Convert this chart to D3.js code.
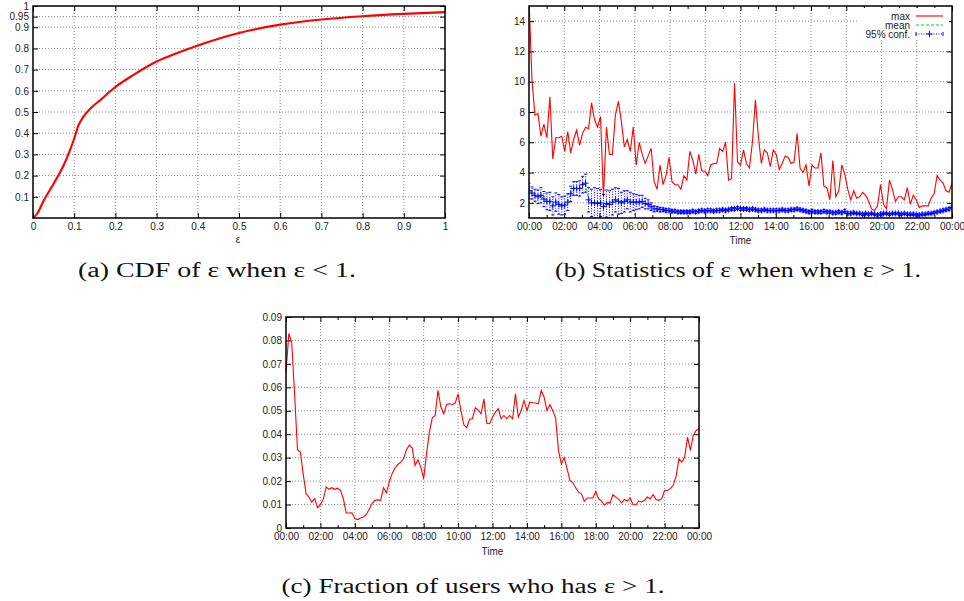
<!DOCTYPE html>
<html>
<head>
<meta charset="utf-8">
<script src="https://cdn.jsdelivr.net/npm/d3@7"></script>
<style>
  body { margin: 0; background: #fff; }
  svg { display: block; }
</style>
</head>
<body>
<svg id="svg" width="964" height="601"></svg>
<script>
/*********************
 * Data
 *********************/
// (a) CDF of epsilon when epsilon < 1
const cdfEps  = [0, 0.01, 0.027, 0.051, 0.075, 0.087, 0.099, 0.111, 0.123, 0.14, 0.164, 0.196,
                 0.244, 0.3, 0.35, 0.4, 0.45, 0.5, 0.6, 0.7, 0.8, 0.9, 1.0];
const cdfVals = [0, 0.02, 0.086, 0.165, 0.251, 0.306, 0.369, 0.44, 0.479, 0.518, 0.557, 0.612,
                 0.675, 0.738, 0.778, 0.814, 0.846, 0.873, 0.912, 0.936, 0.952, 0.963, 0.971];
const cdfXTicks = [0, 0.1, 0.2, 0.3, 0.4, 0.5, 0.6, 0.7, 0.8, 0.9, 1];
const cdfYTicks = [0.1, 0.2, 0.3, 0.4, 0.5, 0.6, 0.7, 0.8, 0.9, 0.95, 1];

// (b) statistics of epsilon when epsilon > 1, one sample every ~10 minutes
const maxEps = [15.5, 10.1, 7.8, 7.9, 6.4, 7.2, 6.3, 9.0, 4.9, 6.3,
  6.3, 6.4, 5.4, 6.7, 5.3, 6.2, 6.8, 5.8, 6.6, 7.0,
  6.9, 8.6, 7.5, 7.0, 7.7, 2.4, 7.0, 5.2, 5.2, 7.8,
  8.7, 7.4, 5.7, 6.2, 5.4, 7.0, 4.5, 6.0, 5.2, 4.6,
  5.1, 5.6, 3.4, 2.9, 4.5, 3.2, 3.8, 5.0, 3.4, 3.2,
  3.2, 2.9, 3.8, 3.5, 5.4, 4.8, 3.9, 5.2, 4.1, 4.1,
  3.8, 4.5, 4.6, 4.6, 5.6, 5.4, 6.0, 3.5, 3.6, 9.9,
  4.7, 4.5, 5.5, 4.6, 4.3, 6.0, 8.8, 6.4, 4.6, 5.5,
  5.3, 4.4, 5.5, 5.2, 4.2, 4.6, 5.1, 5.0, 4.6, 4.7,
  6.6, 4.3, 4.0, 4.5, 3.1, 4.5, 4.3, 4.3, 5.3, 3.1,
  3.0, 2.2, 4.8, 2.4, 2.8, 4.5, 3.9, 2.9, 2.2, 2.8,
  2.3, 2.4, 2.7, 2.5, 2.1, 1.6, 1.5, 1.8, 3.2, 1.9,
  1.6, 3.5, 2.9, 2.1, 2.4, 2.4, 2.2, 3.0, 1.9, 2.5,
  2.2, 1.7, 1.8, 1.8, 1.8, 2.3, 2.6, 3.8, 3.5, 3.3,
  2.8, 2.7, 3.3];
const meanEps = [2.8, 2.65, 2.5, 2.4, 2.5, 2.25, 2.1, 2.1, 1.8, 2.05,
  1.9, 1.8, 1.85, 2.05, 2.6, 2.95, 2.95, 2.95, 3.2, 3.3,
  2.2, 2.0, 2.0, 1.95, 2.0, 1.75, 1.95, 1.9, 2.05, 2.2,
  2.1, 2.0, 2.1, 2.2, 2.05, 2.05, 2.05, 2.05, 2.1, 1.95,
  1.9, 1.75, 1.6, 1.6, 1.55, 1.55, 1.5, 1.5, 1.45, 1.45,
  1.4, 1.4, 1.4, 1.4, 1.4, 1.45, 1.4, 1.45, 1.5, 1.45,
  1.5, 1.5, 1.45, 1.5, 1.5, 1.55, 1.5, 1.55, 1.6, 1.6,
  1.65, 1.6, 1.6, 1.6, 1.55, 1.6, 1.55, 1.5, 1.5, 1.55,
  1.5, 1.5, 1.5, 1.5, 1.5, 1.55, 1.5, 1.5, 1.55, 1.55,
  1.6, 1.55, 1.5, 1.45, 1.4, 1.45, 1.4, 1.4, 1.4, 1.45,
  1.4, 1.4, 1.35, 1.35, 1.4, 1.35, 1.45, 1.3, 1.3, 1.35,
  1.3, 1.3, 1.25, 1.3, 1.25, 1.3, 1.25, 1.2, 1.25, 1.3,
  1.3, 1.25, 1.3, 1.3, 1.3, 1.25, 1.3, 1.25, 1.25, 1.25,
  1.2, 1.2, 1.25, 1.25, 1.3, 1.3, 1.35, 1.4, 1.45, 1.5,
  1.55, 1.6, 1.7];
// half width of the 95% confidence interval around the mean
const confHalf = [0.5, 0.4, 0.4, 0.45, 0.5, 0.5, 0.55, 0.6, 0.6, 0.6,
  0.65, 0.6, 0.6, 0.55, 0.5, 0.45, 0.45, 0.5, 0.55, 0.6,
  0.8, 0.9, 1.0, 1.0, 0.9, 0.8, 0.9, 0.9, 0.85, 0.8,
  0.85, 0.7, 0.7, 0.6, 0.65, 0.55, 0.5, 0.45, 0.4, 0.35,
  0.3, 0.25, 0.2, 0.15, 0.15, 0.12, 0.12, 0.1, 0.1, 0.1,
  0.1, 0.1, 0.1, 0.1, 0.1, 0.1, 0.1, 0.1, 0.1, 0.1,
  0.1, 0.1, 0.1, 0.1, 0.1, 0.1, 0.1, 0.1, 0.1, 0.1,
  0.1, 0.1, 0.1, 0.1, 0.1, 0.1, 0.1, 0.1, 0.1, 0.1,
  0.1, 0.1, 0.1, 0.1, 0.1, 0.1, 0.1, 0.1, 0.1, 0.1,
  0.1, 0.1, 0.1, 0.1, 0.1, 0.1, 0.1, 0.1, 0.1, 0.1,
  0.1, 0.1, 0.1, 0.1, 0.1, 0.1, 0.1, 0.1, 0.1, 0.1,
  0.08, 0.08, 0.08, 0.08, 0.08, 0.08, 0.08, 0.08, 0.08, 0.08,
  0.08, 0.08, 0.08, 0.08, 0.08, 0.08, 0.08, 0.08, 0.08, 0.08,
  0.08, 0.08, 0.08, 0.08, 0.08, 0.08, 0.08, 0.08, 0.08, 0.1,
  0.1, 0.1, 0.1];
const statYTicks = [2, 4, 6, 8, 10, 12, 14];
const legendNames = ['max', 'mean', '95% conf.'];

// (c) fraction of users who has epsilon > 1
const fracUsers = [0.0665, 0.083, 0.079, 0.057, 0.0334, 0.0324, 0.023, 0.0146, 0.0132, 0.011,
  0.0125, 0.0087, 0.01, 0.0122, 0.0175, 0.0165, 0.0172, 0.0165, 0.017, 0.016,
  0.0125, 0.0064, 0.0064, 0.0065, 0.004, 0.0036, 0.0043, 0.0047, 0.0058, 0.008,
  0.0104, 0.0118, 0.012, 0.0118, 0.0172, 0.015, 0.0196, 0.0232, 0.0256, 0.0271,
  0.0281, 0.0295, 0.0334, 0.0354, 0.0342, 0.0267, 0.0291, 0.026, 0.021, 0.0317,
  0.0409, 0.047, 0.048, 0.0587, 0.0516, 0.0487, 0.0527, 0.053, 0.0527, 0.0533,
  0.0572, 0.0501, 0.044, 0.0428, 0.0464, 0.0466, 0.0513, 0.0504, 0.0487, 0.0551,
  0.0447, 0.0445, 0.0473, 0.0494, 0.0509, 0.0466, 0.048, 0.0466, 0.048, 0.0466,
  0.0572, 0.0473, 0.0501, 0.0544, 0.0501, 0.0537, 0.0534, 0.0533, 0.053, 0.0587,
  0.0558, 0.0501, 0.0527, 0.0501, 0.047, 0.0331, 0.0274, 0.03, 0.0253, 0.0203,
  0.0193, 0.0172, 0.0153, 0.0146, 0.0114, 0.0128, 0.0128, 0.0128, 0.0156, 0.0125,
  0.0115, 0.0097, 0.0108, 0.0107, 0.0142, 0.0132, 0.0122, 0.0107, 0.0122, 0.0115,
  0.0128, 0.0099, 0.0099, 0.0115, 0.0111, 0.0118, 0.0132, 0.0125, 0.0143, 0.0121,
  0.0118, 0.0125, 0.016, 0.016, 0.0168, 0.0182, 0.022, 0.0295, 0.0281, 0.0303,
  0.0388, 0.0331, 0.0395, 0.0416, 0.0423];
const fracYTicks = [0, 0.01, 0.02, 0.03, 0.04, 0.05, 0.06, 0.07, 0.08, 0.09];

// time axis, in hours
const hourTicks  = [0, 2, 4, 6, 8, 10, 12, 14, 16, 18, 20, 22, 24];
const hourLabels = ['00:00', '02:00', '04:00', '06:00', '08:00', '10:00', '12:00',
                    '14:00', '16:00', '18:00', '20:00', '22:00', '00:00'];
const hourMinor  = [1, 3, 5, 7, 9, 11, 13, 15, 17, 19, 21, 23];

const captions = [
  '(a) CDF of \u03b5 when \u03b5 < 1.',
  '(b) Statistics of \u03b5 when when \u03b5 > 1.',
  '(c) Fraction of users who has \u03b5 > 1.'
];

/*********************
 * Helpers
 *********************/
const svg = d3.select('#svg');
const tickFont = '"Liberation Sans", Arial, Helvetica, sans-serif';
const gridColor = '#8a8a8a';

// spread n samples evenly over the day
function hoursFor(values) {
  return values.map((v, i) => i * 24 / (values.length - 1));
}

function styleAxis(g) {
  g.attr('font-family', tickFont).attr('font-size', 10);
  g.select('.domain').remove();
  g.selectAll('line').attr('stroke', '#000');
  g.selectAll('text').attr('fill', '#222');
}

function drawFrame(g, x, y, opts) {
  const [x0, x1] = x.range();
  const [y0, y1] = y.range();

  // dotted grid
  g.append('g').selectAll('line')
    .data(opts.xGrid)
    .enter().append('line')
    .attr('x1', d => x(d)).attr('x2', d => x(d))
    .attr('y1', y0).attr('y2', y1)
    .attr('stroke', gridColor)
    .attr('stroke-dasharray', '1,2');
  g.append('g').selectAll('line')
    .data(opts.yGrid)
    .enter().append('line')
    .attr('x1', x0).attr('x2', d => (opts.gridStop && opts.gridStop(d)) || x1)
    .attr('y1', d => y(d)).attr('y2', d => y(d))
    .attr('stroke', gridColor)
    .attr('stroke-dasharray', '1,2');

  // inward ticks on all four sides, labels bottom and left only
  const bottom = d3.axisBottom(x).tickValues(opts.xTicks).tickSizeInner(-5).tickSizeOuter(0)
    .tickPadding(5).tickFormat((d, i) => opts.xLabels ? opts.xLabels[i] : d);
  const left = d3.axisLeft(y).tickValues(opts.yTicks).tickSizeInner(-5).tickSizeOuter(0)
    .tickPadding(4).tickFormat(d => d);
  const top = d3.axisTop(x).tickValues(opts.xTicks).tickSizeInner(-5).tickSizeOuter(0).tickFormat('');
  const right = d3.axisRight(y).tickValues(opts.yTicks).tickSizeInner(-5).tickSizeOuter(0).tickFormat('');

  g.append('g').attr('transform', `translate(0,${y0})`).call(bottom).call(styleAxis);
  g.append('g').attr('transform', `translate(${x0},0)`).call(left).call(styleAxis);
  g.append('g').attr('transform', `translate(0,${y1})`).call(top).call(styleAxis);
  g.append('g').attr('transform', `translate(${x1},0)`).call(right).call(styleAxis);

  if (opts.xMinor) {
    const minB = d3.axisBottom(x).tickValues(opts.xMinor).tickSizeInner(-3).tickSizeOuter(0).tickFormat('');
    const minT = d3.axisTop(x).tickValues(opts.xMinor).tickSizeInner(-3).tickSizeOuter(0).tickFormat('');
    g.append('g').attr('transform', `translate(0,${y0})`).call(minB).call(styleAxis);
    g.append('g').attr('transform', `translate(0,${y1})`).call(minT).call(styleAxis);
  }

  // axis title
  g.append('text')
    .attr('x', (x0 + x1) / 2 + (opts.titleShift || 0))
    .attr('y', y0 + opts.titleOffset)
    .attr('text-anchor', 'middle')
    .attr('font-family', tickFont)
    .attr('font-size', 10)
    .attr('fill', '#222')
    .text(opts.title);
}

function drawBorder(g, x, y) {
  const [x0, x1] = x.range();
  const [y0, y1] = y.range();
  g.append('rect')
    .attr('x', x0).attr('y', y1)
    .attr('width', x1 - x0).attr('height', y0 - y1)
    .attr('fill', 'none')
    .attr('stroke', '#000')
    .attr('stroke-width', 1.5);
}

function clipFor(id, x, y) {
  const [x0, x1] = x.range();
  const [y0, y1] = y.range();
  svg.append('clipPath').attr('id', id)
    .append('rect')
    .attr('x', x0).attr('y', y1)
    .attr('width', x1 - x0).attr('height', y0 - y1);
  return `url(#${id})`;
}

/*********************
 * (a) CDF
 *********************/
function drawCdf() {
  const g = svg.append('g');
  const x = d3.scaleLinear().domain([0, 1]).range([33, 445]);
  const y = d3.scaleLinear().domain([0, 1]).range([218, 6]);

  drawFrame(g, x, y, {
    xGrid: cdfXTicks.slice(1, -1),
    yGrid: cdfYTicks.slice(0, -1),
    xTicks: cdfXTicks,
    yTicks: cdfYTicks,
    title: '\u03b5',
    titleShift: -1,
    titleOffset: 25
  });

  const line = d3.line()
    .x((d, i) => x(cdfEps[i]))
    .y(d => y(d))
    .curve(d3.curveMonotoneX);

  g.append('path')
    .datum(cdfVals)
    .attr('fill', 'none')
    .attr('stroke', '#f00')
    .attr('stroke-width', 2.1)
    .attr('d', line);

  drawBorder(g, x, y);
}

/*********************
 * (b) Statistics
 *********************/
function drawStats() {
  const g = svg.append('g');
  const x = d3.scaleLinear().domain([0, 24]).range([529, 952]);
  const y = d3.scaleLinear().domain([1, 15]).range([218, 6]);
  const clip = clipFor('clipB', x, y);

  drawFrame(g, x, y, {
    xGrid: hourTicks.slice(1, -1),
    yGrid: statYTicks,
    xTicks: hourTicks,
    xLabels: hourLabels,
    xMinor: hourMinor,
    yTicks: statYTicks,
    // the legend box hides the right end of the top grid line
    gridStop: d => d === 14 ? 859 : null,
    title: 'Time',
    titleOffset: 26
  });

  const maxT = hoursFor(maxEps);
  const meanT = hoursFor(meanEps);
  const plot = g.append('g').attr('clip-path', clip);

  // max
  plot.append('path')
    .datum(maxEps)
    .attr('fill', 'none')
    .attr('stroke', '#f00')
    .attr('stroke-width', 1.1)
    .attr('d', d3.line().x((d, i) => x(maxT[i])).y(d => y(d)));

  // mean
  plot.append('path')
    .datum(meanEps)
    .attr('fill', 'none')
    .attr('stroke', '#00d000')
    .attr('stroke-width', 1)
    .attr('stroke-dasharray', '3,2')
    .attr('d', d3.line().x((d, i) => x(meanT[i])).y(d => y(d)));

  // 95% confidence error bars
  const bars = plot.append('g')
    .selectAll('g')
    .data(meanEps)
    .enter().append('g')
    .attr('stroke', '#00f')
    .attr('stroke-width', 1);
  bars.append('line')
    .attr('x1', (d, i) => x(meanT[i])).attr('x2', (d, i) => x(meanT[i]))
    .attr('y1', (d, i) => y(d - confHalf[i])).attr('y2', (d, i) => y(d + confHalf[i]))
    .attr('stroke-dasharray', '1,1.5');
  bars.append('line')
    .attr('x1', (d, i) => x(meanT[i]) - 1.5).attr('x2', (d, i) => x(meanT[i]) + 1.5)
    .attr('y1', (d, i) => y(d - confHalf[i])).attr('y2', (d, i) => y(d - confHalf[i]));
  bars.append('line')
    .attr('x1', (d, i) => x(meanT[i]) - 1.5).attr('x2', (d, i) => x(meanT[i]) + 1.5)
    .attr('y1', (d, i) => y(d + confHalf[i])).attr('y2', (d, i) => y(d + confHalf[i]));
  bars.append('path')
    .attr('d', (d, i) => {
      const px = x(meanT[i]), py = y(d);
      return `M${px - 3},${py}H${px + 3}M${px},${py - 3}V${py + 3}`;
    });

  drawBorder(g, x, y);

  // legend
  const lg = g.append('g');
  lg.append('rect')
    .attr('x', 860).attr('y', 8)
    .attr('width', 89).attr('height', 32)
    .attr('fill', '#fff');
  const rows = lg.selectAll('g.row')
    .data(legendNames)
    .enter().append('g')
    .attr('class', 'row')
    .attr('transform', (d, i) => `translate(0,${16 + i * 9})`);
  rows.append('text')
    .attr('x', 910)
    .attr('dy', '0.35em')
    .attr('text-anchor', 'end')
    .attr('font-family', tickFont)
    .attr('font-size', 10)
    .attr('fill', '#222')
    .text(d => d);
  rows.filter((d, i) => i === 0).append('line')
    .attr('x1', 916).attr('x2', 943)
    .attr('stroke', '#f00').attr('stroke-width', 1.1);
  rows.filter((d, i) => i === 1).append('line')
    .attr('x1', 916).attr('x2', 943)
    .attr('stroke', '#00d000').attr('stroke-dasharray', '3,2');
  const conf = rows.filter((d, i) => i === 2).append('g').attr('stroke', '#00f');
  conf.append('line').attr('x1', 916).attr('x2', 943).attr('stroke-dasharray', '1,1.5');
  conf.append('path').attr('d', 'M916,-2V2M943,-2V2M926.5,0H932.5M929.5,-3V3');
}

/*********************
 * (c) Fraction of users
 *********************/
function drawFraction() {
  const g = svg.append('g');
  const x = d3.scaleLinear().domain([0, 24]).range([286, 699]);
  const y = d3.scaleLinear().domain([0, 0.09]).range([528, 317]);

  drawFrame(g, x, y, {
    xGrid: hourTicks.slice(1, -1),
    yGrid: fracYTicks.slice(1, -1),
    xTicks: hourTicks,
    xLabels: hourLabels,
    xMinor: hourMinor,
    yTicks: fracYTicks,
    title: 'Time',
    titleOffset: 27
  });

  const t = hoursFor(fracUsers);
  g.append('path')
    .datum(fracUsers)
    .attr('fill', 'none')
    .attr('stroke', '#f00')
    .attr('stroke-width', 1.1)
    .attr('d', d3.line().x((d, i) => x(t[i])).y(d => y(d)));

  drawBorder(g, x, y);
}

/*********************
 * Captions
 *********************/
function drawCaptions() {
  const spots = [[217, 277, 278], [738, 277, 366], [473, 593, 383]];
  svg.append('g').selectAll('text')
    .data(captions)
    .enter().append('text')
    .attr('x', (d, i) => spots[i][0])
    .attr('y', (d, i) => spots[i][1])
    .attr('text-anchor', 'middle')
    .attr('textLength', (d, i) => spots[i][2])
    .attr('lengthAdjust', 'spacingAndGlyphs')
    .attr('font-family', '"Liberation Serif", "DejaVu Serif", serif')
    .attr('font-size', 20)
    .attr('fill', '#111')
    .text(d => d);
}

drawCdf();
drawStats();
drawFraction();
drawCaptions();
</script>
</body>
</html>
